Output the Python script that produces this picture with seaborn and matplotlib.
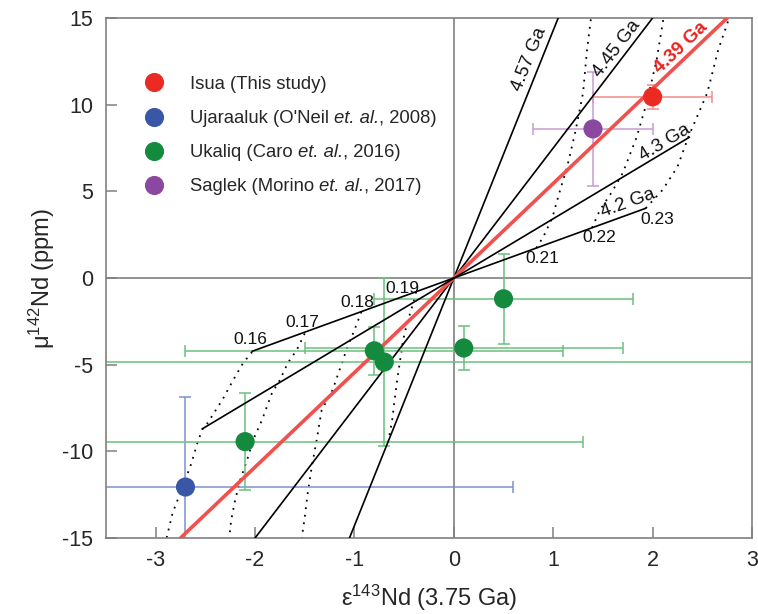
import numpy as np
import pandas as pd
import matplotlib
matplotlib.use("Agg")
import matplotlib.pyplot as plt
import seaborn as sns

# isochrons through the origin, end points
iso_labels = ['4.57 Ga', '4.45 Ga', '4.39 Ga', '4.3 Ga', '4.2 Ga']
iso_x0 = [-1.05, -2.00, -2.75, -2.53, -2.03]
iso_y0 = [-15.0, -15.0, -15.0, -8.70, -4.23]
iso_x1 = [1.05, 2.00, 2.75, 2.37, 1.93]
iso_y1 = [15.0, 15.0, 15.0, 8.12, 4.02]
iso_lab_x = [0.755, 1.64, 2.29, 2.12, 1.75]
iso_lab_y = [12.6, 13.2, 13.3, 7.8, 4.33]

# 147Sm/144Nd curves (dotted)
frac_labels = ['0.16', '0.17', '0.18', '0.19', '0.21', '0.22', '0.23']
frac_lab_x = [-2.05, -1.52, -0.97, -0.52, 0.89, 1.46, 2.05]
frac_lab_y = [-3.52, -2.54, -1.44, -0.58, 1.10, 2.31, 3.35]

f016_x = [-2.03, -2.12, -2.22, -2.33, -2.49, -2.53, -2.58, -2.64, -2.74, -2.83, -2.89]
f016_y = [-4.27, -4.90, -5.89, -7.04, -8.48, -8.72, -9.52, -10.68, -12.23, -13.56, -15.0]
f017_x = [-1.50, -1.58, -1.67, -1.75, -1.83, -1.93, -2.02, -2.08, -2.15, -2.20, -2.24, -2.26]
f017_y = [-3.20, -4.15, -4.90, -5.89, -6.64, -8.19, -9.35, -10.50, -11.66, -12.81, -13.96, -15.0]
f018_x = [-0.93, -1.00, -1.07, -1.15, -1.22, -1.33, -1.38, -1.43, -1.47, -1.50, -1.53]
f018_y = [-1.95, -3.00, -3.98, -5.31, -6.46, -7.62, -9.35, -10.91, -12.41, -13.79, -15.0]
f019_x = [-0.38, -0.42, -0.47, -0.51, -0.54, -0.57, -0.60, -0.62, -0.66]
f019_y = [-0.80, -1.67, -2.60, -3.58, -4.73, -5.89, -7.21, -8.19, -9.45]
f021_x = [0.83, 0.90, 0.99, 1.07, 1.14, 1.22, 1.30, 1.34, 1.38]
f021_y = [1.73, 2.37, 3.46, 5.08, 6.41, 8.37, 10.68, 13.16, 15.0]
f022_x = [1.39, 1.47, 1.59, 1.70, 1.84, 1.94, 2.04, 2.11]
f022_y = [2.89, 3.92, 4.96, 6.06, 8.14, 10.10, 12.58, 15.0]
f023_x = [1.93, 2.10, 2.25, 2.36, 2.55, 2.66, 2.77]
f023_y = [4.02, 5.08, 6.41, 8.14, 10.68, 13.16, 15.0]

# samples
isua_x, isua_y, isua_xerr, isua_yerr = [2.0], [10.45], [0.6], [0.7]
ujar_x, ujar_y, ujar_xerr, ujar_yerr = [-2.70], [-12.06], [3.3], [5.2]
ukal_x = [-2.10, -0.80, -0.70, 0.10, 0.50]
ukal_y = [-9.44, -4.20, -4.85, -4.04, -1.20]
ukal_xerr = [3.4, 1.9, 4.5, 1.6, 1.3]
ukal_yerr = [2.8, 1.4, 4.85, 1.27, 2.6]
sagl_x, sagl_y, sagl_xerr, sagl_yerr = [1.40], [8.6], [0.6], [3.3]

site_names = ['Isua', 'Ujaraaluk', 'Ukaliq', 'Saglek']
# legend text: (upright part, italic part, upright tail)
legend_parts = [('Isua (This study)', '', ''),
                ("Ujaraaluk (O'Neil", 'et. al.', ', 2008)'),
                ('Ukaliq (Caro', 'et. al.', ', 2016)'),
                ('Saglek (Morino', 'et. al.', ', 2017)')]
site_colors = ['#ec2a24', '#3a56a6', '#138a3e', '#8b48a0']
err_colors = ['#f28a86', '#7d92cc', '#6cc07f', '#c69bd2']
leg_fs = 13.3

sns.set_theme(style='white')
plt.rcParams['font.family'] = ['Liberation Sans', 'DejaVu Sans']
plt.rcParams['mathtext.fontset'] = 'custom'
plt.rcParams['mathtext.rm'] = 'Liberation Sans'
plt.rcParams['mathtext.it'] = 'Liberation Sans:italic'
plt.rcParams['axes.unicode_minus'] = False

fig = plt.figure(figsize=(7.58, 6.14), dpi=100)
ax = fig.add_axes([0.1398, 0.1238, 0.8523, 0.8469])
ax.set_xlim(-3.5, 3)
ax.set_ylim(-15, 15)

ax.axhline(0, color='#808080', lw=1.2, zorder=1)
ax.axvline(0, color='#808080', lw=1.2, zorder=1)

# dotted curves
for cx, cy in [(f016_x, f016_y), (f017_x, f017_y), (f018_x, f018_y), (f019_x, f019_y),
               (f021_x, f021_y), (f022_x, f022_y), (f023_x, f023_y)]:
    ax.plot(cx, cy, color='black', lw=1.3, linestyle=(0, (1, 3.2)), zorder=2)

for lab, lx, ly in zip(frac_labels, frac_lab_x, frac_lab_y):
    ax.text(lx, ly, lab, fontsize=12.5, ha='center', va='center', color='#111111')

# isochrons
for i, lab in enumerate(iso_labels):
    red = lab == '4.39 Ga'
    ax.plot([iso_x0[i], iso_x1[i]], [iso_y0[i], iso_y1[i]],
            color='#f2504d' if red else 'black', lw=2.6 if red else 1.2, zorder=3)
    p0 = ax.transData.transform((iso_x0[i], iso_y0[i]))
    p1 = ax.transData.transform((iso_x1[i], iso_y1[i]))
    ang = np.degrees(np.arctan2(p1[1] - p0[1], p1[0] - p0[0]))
    ax.text(iso_lab_x[i], iso_lab_y[i], lab, rotation=ang, rotation_mode='anchor',
            ha='center', va='center', fontsize=13.5,
            color='#e8231f' if red else '#111111',
            fontweight='bold' if red else 'normal')

# error bars
groups = [(isua_x, isua_y, isua_xerr, isua_yerr),
          (ujar_x, ujar_y, ujar_xerr, ujar_yerr),
          (ukal_x, ukal_y, ukal_xerr, ukal_yerr),
          (sagl_x, sagl_y, sagl_xerr, sagl_yerr)]
for (gx, gy, gxe, gye), ec in zip(groups, err_colors):
    ax.errorbar(gx, gy, xerr=gxe, yerr=gye, fmt='none', ecolor=ec,
                elinewidth=1.1, capsize=4, capthick=1.1, zorder=2.5)

rows = []
for name, (gx, gy, _, _) in zip(site_names, groups):
    for a, b in zip(gx, gy):
        rows.append({'x': a, 'y': b, 'site': name})
df = pd.DataFrame(rows)

sns.scatterplot(data=df, x='x', y='y', hue='site', hue_order=site_names,
                palette=site_colors, s=190, edgecolor='none', ax=ax, zorder=5)

leg = ax.legend(loc='upper left', bbox_to_anchor=(0.034, 0.903), frameon=False,
                fontsize=leg_fs, handletextpad=0.95, labelspacing=0.93,
                markerscale=1.0, borderaxespad=0)

ax.set_xticks([-3, -2, -1, 0, 1, 2, 3])
ax.set_yticks([-15, -10, -5, 0, 5, 10, 15])
ax.tick_params(direction='in', length=8, width=1.1, color='#808080',
               labelsize=15.5, pad=9, left=True, bottom=True)
for s in ax.spines.values():
    s.set_color('#808080')
    s.set_linewidth(1.2)

ax.set_xlabel('ε$^{143}$Nd (3.75 Ga)', fontsize=17, labelpad=8)
ax.set_ylabel('μ$^{142}$Nd (ppm)', fontsize=17, labelpad=4)

# mixed upright / italic legend text: place the legend first, then chain the parts
for txt, (pre, it, post) in zip(leg.get_texts(), legend_parts):
    txt.set_text(pre)
fig.canvas.draw()
for txt, (pre, it, post) in zip(leg.get_texts(), legend_parts):
    if it:
        t2 = ax.annotate(it, xy=(1, 0), xycoords=txt, xytext=(3.7, 0),
                         textcoords='offset points', va='bottom', ha='left',
                         fontsize=leg_fs, fontstyle='italic', annotation_clip=False)
        ax.annotate(post, xy=(1, 0), xycoords=t2, va='bottom', ha='left',
                    fontsize=leg_fs, annotation_clip=False)

fig.savefig('out.png', dpi=100)
